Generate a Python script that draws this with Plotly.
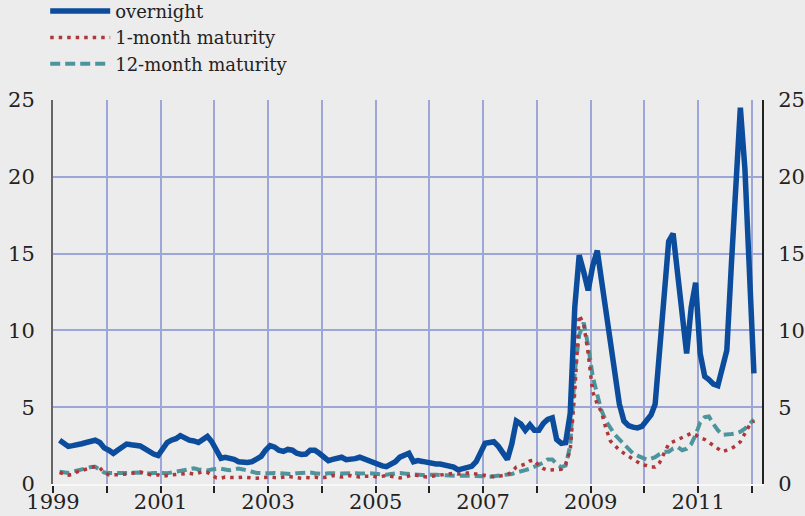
import pandas as pd
import plotly.graph_objects as go

# monthly averages, Feb 1999 .. Jan 2012
months = pd.date_range("1999-02-01", "2012-01-01", freq="MS") + pd.Timedelta(days=14)

overnight = [
    # 1999 Feb-Dec
    2.85, 2.7, 2.45, 2.5, 2.6, 2.62, 2.7, 2.75, 2.85, 2.7, 2.35,
    # 2000
    2.2, 2.0, 2.2, 2.4, 2.6, 2.55, 2.52, 2.48, 2.3, 2.1, 1.95, 1.85,
    # 2001
    2.3, 2.7, 2.85, 2.95, 3.15, 2.97, 2.85, 2.8, 2.7, 2.9, 3.1, 2.75,
    # 2002
    2.2, 1.67, 1.74, 1.68, 1.6, 1.45, 1.38, 1.4, 1.45, 1.6, 1.8, 2.2,
    # 2003
    2.5, 2.4, 2.2, 2.12, 2.25, 2.2, 2.0, 1.92, 1.95, 2.2, 2.2, 2.0,
    # 2004
    1.8, 1.52, 1.6, 1.7, 1.74, 1.58, 1.58, 1.65, 1.74, 1.62, 1.52, 1.4,
    # 2005
    1.3, 1.18, 1.13, 1.25, 1.45, 1.75, 1.85, 2.0, 1.45, 1.52, 1.47, 1.4,
    # 2006
    1.35, 1.3, 1.3, 1.25, 1.18, 1.1, 0.92, 1.0, 1.1, 1.15, 1.45, 2.1,
    # 2007
    2.65, 2.7, 2.75, 2.45, 2.1, 1.6, 2.6, 4.1, 3.9, 3.5, 3.85, 3.5,
    # 2008
    3.5, 3.95, 4.2, 4.3, 2.9, 2.65, 2.7, 4.6, 11.5, 14.9, 13.8, 12.6,
    # 2009
    14.2, 15.2, 13.3, 11.3, 8.9, 6.8, 5.2, 4.1, 3.8, 3.7, 3.65, 3.75,
    # 2010
    4.1, 4.5, 5.2, 9.0, 13.0, 15.8, 16.3, 13.5, 10.5, 8.5, 11.5, 13.1,
    # 2011
    8.5, 7.0, 6.8, 6.5, 6.4, 7.5, 8.7, 14.3, 19.0, 24.5, 20.5, 14.3,
    # 2012 Jan
    7.2,
]

one_month = [
    0.75, 0.65, 0.58, 0.62, 0.8, 0.87, 0.95, 1.05, 1.15, 1.05, 0.75,
    0.6, 0.58, 0.6, 0.62, 0.65, 0.68, 0.72, 0.78, 0.7, 0.6, 0.55, 0.6,
    0.5, 0.55, 0.6, 0.62, 0.65, 0.7, 0.7, 0.65, 0.72, 0.8, 0.75, 0.55,
    0.4, 0.38, 0.45, 0.42, 0.4, 0.42, 0.45, 0.42, 0.38, 0.38, 0.4, 0.45,
    0.45, 0.42, 0.4, 0.45, 0.5, 0.45, 0.4, 0.38, 0.42, 0.4, 0.45, 0.4,
    0.42, 0.5, 0.55, 0.5, 0.45, 0.5, 0.55, 0.5, 0.45, 0.5, 0.52, 0.5,
    0.45, 0.5, 0.55, 0.5, 0.45, 0.4, 0.45, 0.5, 0.6, 0.55, 0.5, 0.45,
    0.5, 0.55, 0.6, 0.65, 0.7, 0.7, 0.65, 0.7, 0.72, 0.7, 0.65, 0.6,
    0.55, 0.5, 0.48, 0.5, 0.55, 0.6, 0.8, 1.1, 1.2, 1.3, 1.5, 1.55,
    1.2, 1.0, 0.9, 0.9, 0.9, 0.95, 1.3, 2.2, 6.0, 11.0, 10.4, 8.5,
    6.0, 5.2, 4.7, 3.6, 2.8, 2.5, 2.2, 2.0, 1.8, 1.65, 1.4, 1.25,
    1.2, 1.1, 1.1, 1.4, 2.0, 2.6, 2.75, 2.9, 3.0, 3.15, 3.3, 3.2,
    3.0, 2.9, 2.7, 2.5, 2.3, 2.1, 2.2, 2.3, 2.5, 2.75, 3.3, 3.8,
    4.1,
]

twelve_month = [
    0.8, 0.75, 0.72, 0.8, 0.88, 0.9, 1.0, 1.1, 1.12, 0.95, 0.75,
    0.72, 0.7, 0.7, 0.72, 0.72, 0.75, 0.78, 0.75, 0.72, 0.68, 0.72, 0.75,
    0.72, 0.7, 0.75, 0.8, 0.85, 0.9, 1.0, 1.02, 0.95, 0.9, 0.88, 0.95,
    1.0, 1.0, 0.95, 0.9, 0.95, 1.0, 0.95, 0.9, 0.8, 0.72, 0.7, 0.72,
    0.7, 0.72, 0.7, 0.68, 0.7, 0.65, 0.7, 0.72, 0.7, 0.75, 0.7, 0.68,
    0.65, 0.7, 0.72, 0.7, 0.68, 0.7, 0.72, 0.7, 0.68, 0.72, 0.7, 0.68,
    0.65, 0.62, 0.6, 0.65, 0.7, 0.72, 0.68, 0.65, 0.6, 0.55, 0.58, 0.6,
    0.62, 0.6, 0.58, 0.55, 0.52, 0.5, 0.52, 0.55, 0.55, 0.55, 0.52, 0.5,
    0.5, 0.48, 0.5, 0.52, 0.55, 0.6, 0.65, 0.75, 0.8, 0.9, 1.0, 1.1,
    1.25, 1.4, 1.6, 1.6, 1.3, 1.1, 1.2, 2.5, 7.3, 9.7, 10.5, 9.0,
    7.0, 5.8, 4.8, 4.1, 3.6, 3.2, 2.9, 2.6, 2.3, 2.0, 1.85, 1.7,
    1.6, 1.65, 1.75, 1.95, 2.1, 2.1, 2.3, 2.4, 2.2, 2.3, 2.6, 3.2,
    4.0, 4.35, 4.4, 3.9, 3.5, 3.2, 3.2, 3.25, 3.3, 3.4, 3.6, 3.9,
    4.2,
]

years = list(range(1999, 2013))
year_labels = [str(y) if y % 2 == 1 else "" for y in years]
y_ticks = [0, 5, 10, 15, 20, 25]

FONT = "DejaVu Serif"
BG = "#ececec"
GRID = "#9da6d8"
TXT = "#222222"

fig = go.Figure()
# overnight sits on the right-hand axis so it is drawn on top
fig.add_trace(go.Scatter(x=months, y=overnight, name="overnight", yaxis="y2",
                         mode="lines", line=dict(color="#0b4c9c", width=5.5)))
fig.add_trace(go.Scatter(x=months, y=twelve_month, name="12-month maturity", legendrank=3,
                         mode="lines", line=dict(color="#4e949d", width=4, dash="10px,5px")))
fig.add_trace(go.Scatter(x=months, y=one_month, name="1-month maturity", legendrank=2,
                         mode="lines", line=dict(color="#b0363a", width=3.5, dash="3.5px,5px")))
fig.data[0].legendrank = 1

fig.update_layout(
    width=805, height=516,
    margin=dict(l=53, r=43, t=100, b=32, autoexpand=False),
    paper_bgcolor=BG, plot_bgcolor=BG,
    font=dict(family=FONT, size=21, color=TXT),
    showlegend=True,
    legend=dict(x=-0.011, y=1.279, xanchor="left", yanchor="top",
                bgcolor="rgba(0,0,0,0)",
                font=dict(family=FONT, size=18, color=TXT),
                traceorder="normal", tracegroupgap=0, itemwidth=60),
    xaxis=dict(range=["1999-01-01", "2012-03-10"],
               tickvals=[f"{y}-01-01" for y in years], ticktext=year_labels,
               showgrid=True, gridcolor=GRID, gridwidth=2,
               ticks="outside", ticklen=7, tickwidth=2, tickcolor=TXT,
               ticklabelstandoff=-9,
               showline=True, linecolor="#f8f8f8", linewidth=2,
               zeroline=False, tickfont=dict(size=21)),
    yaxis=dict(range=[0, 25], tickvals=y_ticks, showgrid=True, gridcolor=GRID,
               gridwidth=2, showline=True, linecolor="#666666", linewidth=2,
               zeroline=False, ticks="", ticklabelstandoff=12, tickfont=dict(size=21)),
    yaxis2=dict(range=[0, 25], tickvals=y_ticks, overlaying="y", side="right",
                showgrid=False, showline=True, linecolor=TXT, linewidth=2,
                zeroline=False, ticks="", ticklabelstandoff=10, tickfont=dict(size=21)),
)

# drop the default page margin so the figure fills the window
fig.write_html("out.html", config={"displayModeBar": False},
               post_script="document.body.style.margin='0';"
               "document.body.style.background='#ececec';")
